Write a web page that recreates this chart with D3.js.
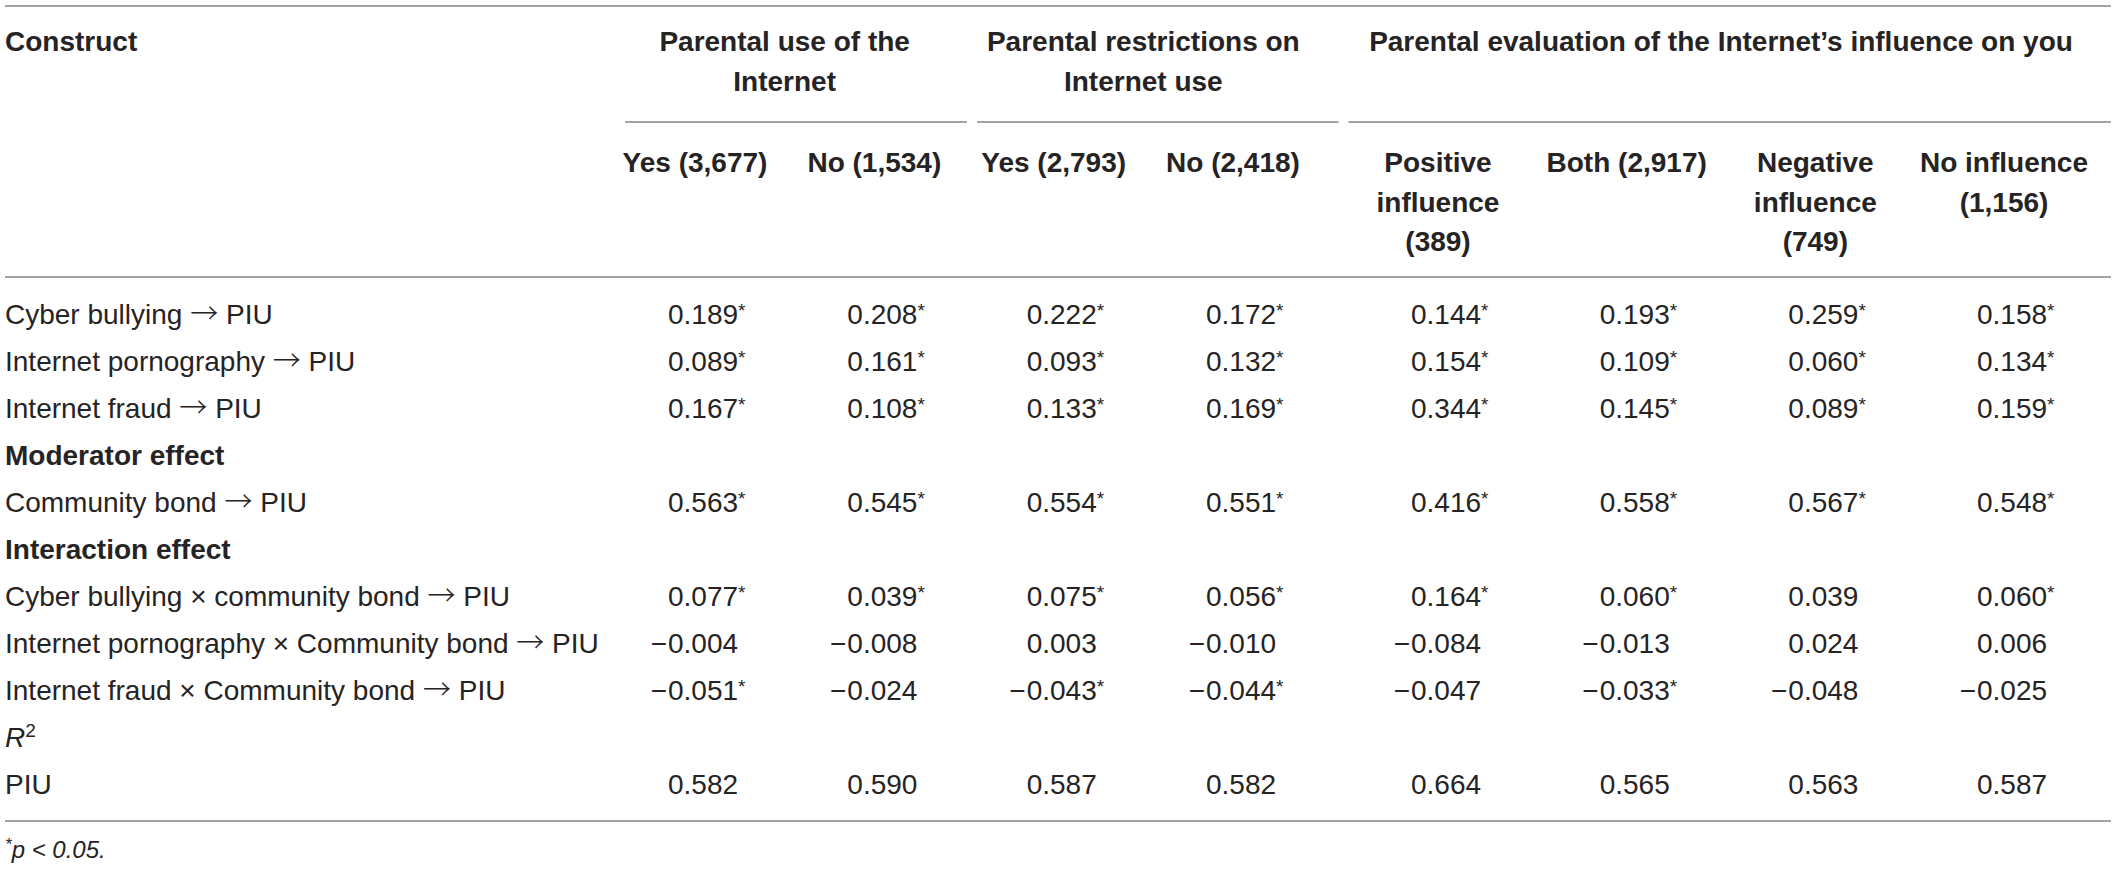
<!DOCTYPE html>
<html>
<head>
<meta charset="utf-8">
<script src="https://cdnjs.cloudflare.com/ajax/libs/d3/7.8.5/d3.min.js"></script>
<style>
  body { margin: 0; background: #fff; }
</style>
</head>
<body>
<div id="table-container"></div>
<script>
// table content
var groupLabels = [["Parental use of the", "Internet"], ["Parental restrictions on", "Internet use"], ["Parental evaluation of the Internet\u2019s influence on you"]];
var groupSpans = [[0, 1], [2, 3], [4, 7]];
var columnLabels = [["Yes (3,677)"], ["No (1,534)"], ["Yes (2,793)"], ["No (2,418)"],
  ["Positive", "influence", "(389)"], ["Both (2,917)"], ["Negative", "influence", "(749)"], ["No influence", "(1,156)"]];

var rowLabels = [
  "Cyber bullying \u2192 PIU",
  "Internet pornography \u2192 PIU",
  "Internet fraud \u2192 PIU",
  "Moderator effect",
  "Community bond \u2192 PIU",
  "Interaction effect",
  "Cyber bullying \u00d7 community bond \u2192 PIU",
  "Internet pornography \u00d7 Community bond \u2192 PIU",
  "Internet fraud \u00d7 Community bond \u2192 PIU",
  "R",
  "PIU"
];
var rowKinds = ["data", "data", "data", "section", "data", "section", "data", "data", "data", "rsq", "data"];

var cyberBullying = [0.189, 0.208, 0.222, 0.172, 0.144, 0.193, 0.259, 0.158];
var cyberBullyingSig = [1, 1, 1, 1, 1, 1, 1, 1];
var pornography = [0.089, 0.161, 0.093, 0.132, 0.154, 0.109, 0.060, 0.134];
var pornographySig = [1, 1, 1, 1, 1, 1, 1, 1];
var fraud = [0.167, 0.108, 0.133, 0.169, 0.344, 0.145, 0.089, 0.159];
var fraudSig = [1, 1, 1, 1, 1, 1, 1, 1];
var communityBond = [0.563, 0.545, 0.554, 0.551, 0.416, 0.558, 0.567, 0.548];
var communityBondSig = [1, 1, 1, 1, 1, 1, 1, 1];
var cyberXBond = [0.077, 0.039, 0.075, 0.056, 0.164, 0.060, 0.039, 0.060];
var cyberXBondSig = [1, 1, 1, 1, 1, 1, 0, 1];
var pornXBond = [-0.004, -0.008, 0.003, -0.010, -0.084, -0.013, 0.024, 0.006];
var pornXBondSig = [0, 0, 0, 0, 0, 0, 0, 0];
var fraudXBond = [-0.051, -0.024, -0.043, -0.044, -0.047, -0.033, -0.048, -0.025];
var fraudXBondSig = [1, 0, 1, 1, 0, 1, 0, 0];
var piuR2 = [0.582, 0.590, 0.587, 0.582, 0.664, 0.565, 0.563, 0.587];
var piuR2Sig = [0, 0, 0, 0, 0, 0, 0, 0];

var rowValues = [cyberBullying, pornography, fraud, null, communityBond, null, cyberXBond, pornXBond, fraudXBond, null, piuR2];
var rowSig = [cyberBullyingSig, pornographySig, fraudSig, null, communityBondSig, null, cyberXBondSig, pornXBondSig, fraudXBondSig, null, piuR2Sig];

var footnote = "p < 0.05.";

// layout
var outterWidth = 2117;
var outterHeight = 870;
var tableLeft = 5;
var tableRight = 2111;
var fontFamily = "'Liberation Sans', Arial, Helvetica, sans-serif";
var arrowFont = "'Noto Sans CJK SC', 'DejaVu Sans', sans-serif";
var textColor = "#262324";
var ruleColor = "#a3a3a3";
var bodySize = 28;
var lineStep = 39.5;
var numberOffset = -27;

var fmt = d3.format(".3f");

var svg = d3.select("div#table-container").append("svg")
  .attr("width", outterWidth)
  .attr("height", outterHeight)
  .attr("viewBox", "0 0 " + outterWidth + " " + outterHeight)
  .style("font-family", fontFamily)
  .style("fill", textColor);

// column centres (piecewise linear, group 3 a bit wider)
var colX = d3.scaleLinear().domain([0, 3, 4, 7]).range([695, 1233, 1438, 2004]);
var rowY = d3.scaleBand().domain(d3.range(rowLabels.length)).range([290, 807]);

function rule(y, x1, x2) {
  svg.append("line")
    .attr("x1", x1).attr("x2", x2)
    .attr("y1", y).attr("y2", y)
    .style("stroke", ruleColor)
    .style("stroke-width", 2);
}

// arrows drawn in a font with a long thin glyph
function writeLabel(t, label) {
  label.split(/(\u2192)/).forEach(function (part) {
    if (part === "\u2192") {
      t.append("tspan").style("font-family", arrowFont).style("font-weight", 300).text(part);
    } else if (part.length) {
      t.append("tspan").text(part);
    }
  });
}

// horizontal rules
rule(6, tableLeft, tableRight);
rule(277, tableLeft, tableRight);
rule(rowY.range()[1] + 14, tableLeft, tableRight);

// header: construct + group labels
svg.append("text")
  .attr("x", tableLeft).attr("y", 51)
  .attr("font-size", bodySize + "px")
  .attr("font-weight", "bold")
  .text("Construct");

groupSpans.forEach(function (span, g) {
  var cx = (colX(span[0]) + colX(span[1])) / 2;
  groupLabels[g].forEach(function (line, k) {
    svg.append("text")
      .attr("x", cx).attr("y", 51 + k * lineStep)
      .attr("text-anchor", "middle")
      .attr("font-size", bodySize + "px")
      .attr("font-weight", "bold")
      .text(line);
  });
  var left = g === 0 ? colX(span[0]) - 70 : (colX(span[0] - 1) + colX(span[0])) / 2 + 13;
  var right = g === groupSpans.length - 1 ? tableRight : (colX(span[1]) + colX(span[1] + 1)) / 2 + 3;
  rule(122, left, right);
});

// sub headers
columnLabels.forEach(function (lines, i) {
  lines.forEach(function (line, k) {
    svg.append("text")
      .attr("x", colX(i)).attr("y", 172 + k * lineStep)
      .attr("text-anchor", "middle")
      .attr("font-size", bodySize + "px")
      .attr("font-weight", "bold")
      .text(line);
  });
});

// body rows
rowLabels.forEach(function (label, r) {
  var baseY = rowY(r) + rowY.bandwidth() / 2 + 10;
  var t = svg.append("text")
    .attr("x", tableLeft).attr("y", baseY)
    .attr("font-size", bodySize + "px");
  if (rowKinds[r] === "section") {
    t.attr("font-weight", "bold").text(label);
  } else if (rowKinds[r] === "rsq") {
    t.append("tspan").attr("font-style", "italic").text(label);
    t.append("tspan").attr("font-size", "19px").attr("dy", -10).text("2");
  } else {
    writeLabel(t, label);
  }

  var vals = rowValues[r];
  if (!vals) return;
  vals.forEach(function (v, i) {
    var x = colX(i) + numberOffset;
    var s = fmt(Math.abs(v));
    if (v < 0) {
      svg.append("text")
        .attr("x", x - 1).attr("y", baseY)
        .attr("text-anchor", "end")
        .attr("font-size", bodySize + "px")
        .text("\u2212");
    }
    var nt = svg.append("text")
      .attr("x", x).attr("y", baseY)
      .attr("font-size", bodySize + "px");
    nt.append("tspan").text(s);
    if (rowSig[r][i]) {
      nt.append("tspan").attr("font-size", "19px").attr("dy", -7).text("*");
    }
  });
});

// footnote
var fn = svg.append("text")
  .attr("x", tableLeft).attr("y", 858)
  .attr("font-size", "24px")
  .attr("font-style", "italic");
fn.append("tspan").attr("font-size", "17px").attr("dy", -8).text("*");
fn.append("tspan").attr("dy", 8).text(footnote);
</script>
</body>
</html>
